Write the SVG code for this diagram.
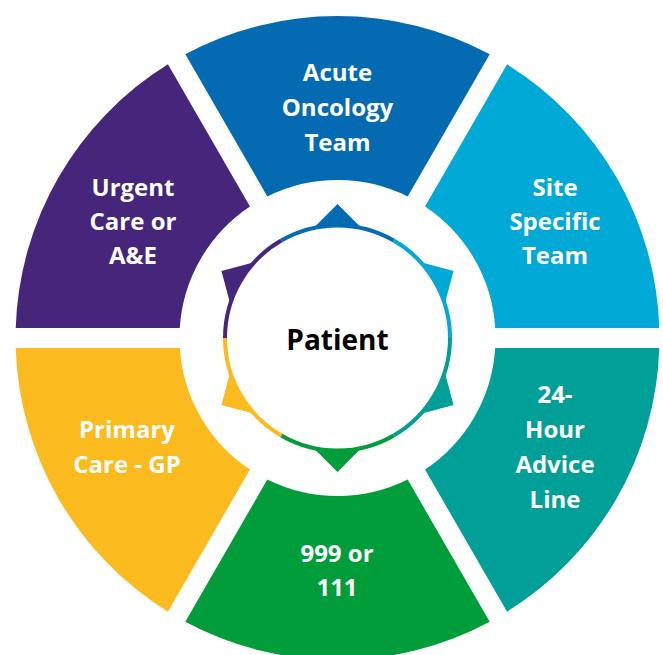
<svg xmlns="http://www.w3.org/2000/svg" width="663" height="655" viewBox="0 0 663 655">
<defs>
<style>
.lbl{font-family:"Open Sans","Noto Sans","Liberation Sans",sans-serif;font-weight:700;font-size:24px;fill:#ffffff;text-anchor:middle}
.pt{font-family:"Open Sans","Noto Sans","Liberation Sans",sans-serif;font-weight:700;font-size:28px;fill:#000000;text-anchor:middle}
.arc{fill:none;stroke-width:4}
</style>
<path id="seg" d="M185.3,54.3 A322,322 0 0,1 489.7,54.3 L407.7,196.4 A158,158 0 0,0 267.3,196.4 Z"/>
<path id="tri" d="M337.5,204 L367.5,234 L307.5,234 Z"/>
<path id="arcp" d="M281.25,240.57 A112.5,112.5 0 0,1 393.75,240.57"/>
</defs>
<rect width="663" height="655" fill="#ffffff"/>
<g id="acute-oncology-team">
<use href="#seg" fill="#046AB2"/>
<text class="lbl" x="337.5" y="81">Acute</text>
<text class="lbl" x="337.5" y="116">Oncology</text>
<text class="lbl" x="337.5" y="151">Team</text>
</g>
<g id="site-specific-team">
<use href="#seg" fill="#00A9D6" transform="rotate(60 337.5 338)"/>
<text class="lbl" x="555" y="196">Site</text>
<text class="lbl" x="555" y="230">Specific</text>
<text class="lbl" x="555" y="264">Team</text>
</g>
<g id="advice-line">
<use href="#seg" fill="#00A098" transform="rotate(120 337.5 338)"/>
<text class="lbl" x="555" y="403">24-</text>
<text class="lbl" x="555" y="438">Hour</text>
<text class="lbl" x="555" y="473">Advice</text>
<text class="lbl" x="555" y="507.5">Line</text>
</g>
<g id="999-or-111">
<use href="#seg" fill="#009D3A" transform="rotate(180 337.5 338)"/>
<text class="lbl" x="337" y="561.5">999 or</text>
<text class="lbl" x="337" y="596">111</text>
</g>
<g id="primary-care-gp">
<use href="#seg" fill="#FBBB1E" transform="rotate(240 337.5 338)"/>
<text class="lbl" x="127" y="438">Primary</text>
<text class="lbl" x="127" y="473">Care - GP</text>
</g>
<g id="urgent-care">
<use href="#seg" fill="#45267A" transform="rotate(300 337.5 338)"/>
<text class="lbl" x="133" y="196">Urgent</text>
<text class="lbl" x="133" y="230">Care or</text>
<text class="lbl" x="133" y="264">A&amp;E</text>
</g>
<g id="connectors">
<use href="#tri" fill="#046AB2"/>
<use href="#tri" fill="#00A9D6" transform="rotate(60 337.5 338)"/>
<use href="#tri" fill="#00A098" transform="rotate(120 337.5 338)"/>
<use href="#tri" fill="#009D3A" transform="rotate(180 337.5 338)"/>
<use href="#tri" fill="#FBBB1E" transform="rotate(240 337.5 338)"/>
<use href="#tri" fill="#45267A" transform="rotate(300 337.5 338)"/>
</g>
<g id="patient">
<circle cx="337.5" cy="338" r="112.5" fill="#ffffff"/>
<use href="#arcp" class="arc" stroke="#046AB2"/>
<use href="#arcp" class="arc" stroke="#00A9D6" transform="rotate(60 337.5 338)"/>
<use href="#arcp" class="arc" stroke="#00A098" transform="rotate(120 337.5 338)"/>
<use href="#arcp" class="arc" stroke="#009D3A" transform="rotate(180 337.5 338)"/>
<use href="#arcp" class="arc" stroke="#FBBB1E" transform="rotate(240 337.5 338)"/>
<use href="#arcp" class="arc" stroke="#45267A" transform="rotate(300 337.5 338)"/>
<text class="pt" x="337.5" y="349.5">Patient</text>
</g>
</svg>
